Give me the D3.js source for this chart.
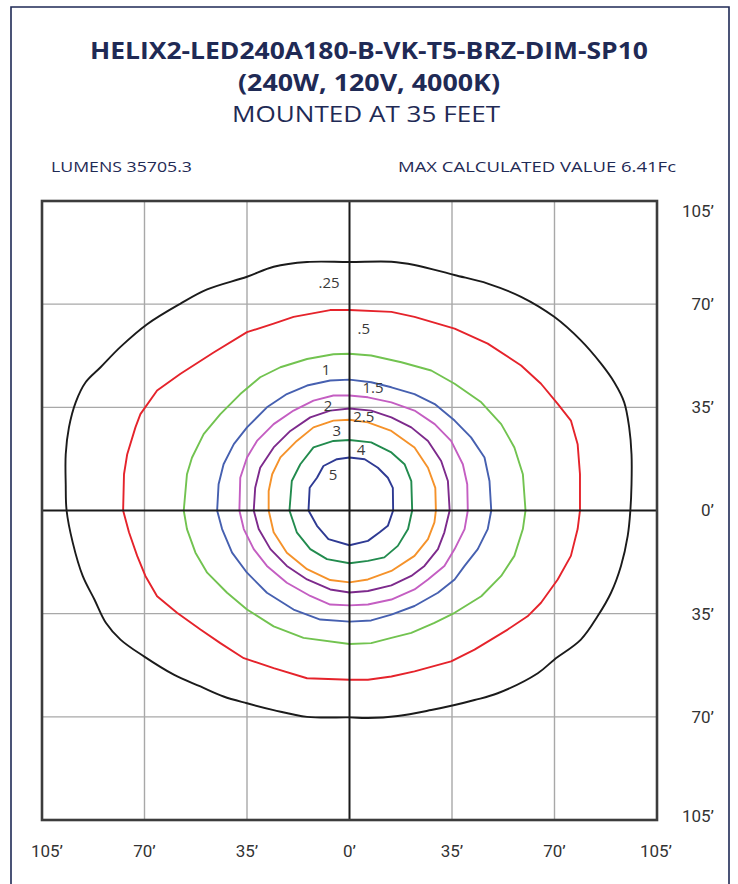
<!DOCTYPE html>
<html>
<head>
<meta charset="utf-8">
<script src="https://cdn.jsdelivr.net/npm/d3@7"></script>
<style>
  html, body { margin: 0; padding: 0; background: #fff; }
  svg { display: block; }
</style>
</head>
<body>
<svg id="chart" width="738" height="884"></svg>
<script>
// ---------- DATA ----------
const titleLines = ["HELIX2-LED240A180-B-VK-T5-BRZ-DIM-SP10", "(240W, 120V, 4000K)", "MOUNTED AT 35 FEET"];
const lumensText = "LUMENS 35705.3";
const maxText = "MAX CALCULATED VALUE 6.41Fc";

const tickValues = [-105, -70, -35, 0, 35, 70, 105];
const tickLabels = ["105’", "70’", "35’", "0’", "35’", "70’", "105’"];
const yTickLabels = ["105’", "70’", "35’", "0’", "35’", "70’", "105’"]; // bottom to top

const levels = [".25", ".5", "1", "1.5", "2", "2.5", "3", "4", "5"];
const levelColors = ["#1b1b1b", "#e5232b", "#72c350", "#4660b0", "#c45ec2", "#7d2a8c", "#f5922a", "#228b4e", "#2e3a93"];

// contour polylines in feet (x, y), clockwise from top centre
const c025 = [[0,84.3],[14.3,84.4],[22.2,83.3],[35.8,79.9],[47.2,77],[58.6,72.5],[69.9,65.7],[79,57.7],[85.9,49.8],[90.4,43.5],[93.8,36.7],[95.5,28.2],[96.3,19.1],[96.3,8.9],
  [95.9,0],[95,-8.6],[92.7,-18.8],[89.3,-27.9],[84.7,-35.9],[79,-43.8],[69.9,-50.6],[64.3,-55.2],[50.6,-62],[42.7,-64.3],[35.9,-66],[27.9,-67.7],[16.5,-69.7],[6.3,-70.4],
  [0,-70.2],[-14.5,-70],[-25.9,-67.7],[-35,-65.4],[-43,-63.1],[-50.9,-59.7],[-60,-55.7],[-70.2,-49.5],[-78.2,-43.8],[-83.2,-38.1],[-87.1,-30.2],[-91.1,-22.2],[-94.5,-10.9],
  [-96.6,0],[-96.9,8.9],[-96.9,19.1],[-95.8,28.2],[-93.5,36.7],[-90.1,43.5],[-85,48.6],[-78.2,55.5],[-69.1,63.2],[-57.7,70.2],[-48.6,75],[-35,79.3],[-25.9,82.7],[-14.5,84.3]];
const c05 = [[0,68],[14.3,67.4],[22.2,65.7],[35.9,61.7],[47.2,56.6],[58.6,49.2],[65.4,43],[71.1,36.2],[75.6,30.5],[77.9,22.5],[78.7,12.3],
  [78.7,0],[77.9,-6.3],[75.6,-15.4],[71.1,-23.4],[65.4,-31.3],[60.8,-35.9],[54,-40.4],[42.7,-47.2],[34.7,-51.2],[22.2,-54.6],[14.3,-56.3],[6.3,-57.4],
  [0,-57.4],[-14.5,-56.9],[-25.9,-53.5],[-36.1,-50.1],[-44.1,-45],[-50.9,-40.4],[-58.9,-34.7],[-65.7,-29.1],[-69.7,-22.2],[-72.5,-15.4],[-75.3,-7.4],
  [-77.3,0],[-77,12.3],[-75.9,19.1],[-73.1,28.2],[-71.4,32.7],[-65.7,40.7],[-57.7,46.4],[-46.4,53.6],[-35,60.5],[-25.9,63.4],[-19.1,65.7],[-6.6,68]];
const c1 = [[0,53.2],[7.4,52.6],[17.7,50.3],[27.9,47.5],[35.9,43],[45,36.7],[51.8,29.3],[56.3,21.4],[59.2,12.3],
  [60.1,0],[59.2,-6.3],[56.3,-15.4],[51.8,-22.2],[45,-29.1],[35.9,-34.7],[29,-38.1],[21.1,-41.5],[14.3,-43.2],[7.4,-45],
  [0,-45.3],[-15.7,-43.2],[-25.9,-39.3],[-35,-33.6],[-41.8,-27.9],[-48.6,-21.1],[-52.6,-14.3],[-55.5,-6.3],
  [-56.6,0],[-55.5,12.3],[-53.8,17.9],[-49.8,25.9],[-44.1,32.7],[-37.3,39.5],[-30.5,45.2],[-23.6,48.6],[-14.5,51.4],[-5.5,53]];
const c15 = [[0,44.4],[7.4,43.5],[14.3,41.8],[22.2,39.5],[29.1,36.1],[35.9,30.5],[41.5,24.8],[46.1,18],[47.8,10],
  [48.4,0],[47.2,-6.3],[43.8,-13.1],[39.3,-18.8],[35.9,-23.4],[30.2,-27.9],[22.2,-32.4],[14.3,-35.3],[7.4,-37.3],
  [0,-37.7],[-10,-37],[-19.1,-33.6],[-28.2,-27.9],[-35,-21.1],[-40.1,-14.3],[-43.5,-6.3],
  [-45.2,0],[-44.7,8.9],[-43,15.7],[-39.5,22.5],[-35,28.2],[-28.2,35],[-21.4,39.5],[-14.5,42.4],[-6.6,44.1]];
const c2 = [[0,39],[6.3,38.4],[14.3,36.7],[22.2,33.9],[29.1,29.3],[34.7,23.6],[38.7,15.7],[40.2,8.9],
  [40.4,0],[39.3,-6.3],[35.9,-13.1],[32.4,-18.8],[26.8,-23.4],[22.2,-26.8],[14.3,-30.2],[6.3,-31.9],
  [0,-32.2],[-6.6,-31.9],[-13.4,-29],[-21.4,-24.5],[-28.2,-18.8],[-32.7,-13.1],[-36.1,-6.3],
  [-37.6,0],[-37.3,11.1],[-35,18],[-31.6,23.6],[-25.9,29.3],[-19.1,33.9],[-12.3,37.3],[-5.5,39]];
const c25 = [[0,34.6],[7.4,33.9],[14.3,31.6],[21.1,28.2],[26.8,23.6],[31.3,16.8],[33.6,10],
  [34.2,0],[32.4,-7.4],[30.2,-13.1],[25.6,-18.8],[21.1,-22.2],[14.3,-25.4],[6.3,-27.3],
  [0,-27.8],[-6.6,-26.8],[-14.5,-23.4],[-21.4,-18.8],[-27,-13.1],[-31,-6.3],
  [-32.7,0],[-32.2,7.7],[-30.5,14.5],[-25.9,21.4],[-20.2,27],[-13.4,31.6],[-6.6,33.9]];
const c3 = [[0,30.8],[6.3,29.9],[14.3,27],[22.2,21.4],[26.8,14.5],[29.3,7.7],
  [29.5,0],[29,-4],[26.8,-9.7],[22.2,-15.4],[14.3,-20.5],[6.3,-23.4],
  [0,-24.4],[-6.6,-23.6],[-14.5,-19.9],[-21.4,-14.3],[-25.9,-7.4],
  [-27.6,0],[-27.6,6.6],[-26.4,12.3],[-23.6,18],[-18,23.6],[-12.3,28.2],[-5.5,30.5]];
const c4 = [[0,23.9],[7.4,23.1],[14.3,19.7],[18.8,15.7],[21.1,10],
  [21.4,0],[20,-6.3],[16.5,-12],[11.9,-15.9],[6.3,-17.1],
  [0,-17.9],[-7.7,-16.5],[-13.4,-13.1],[-18,-7.4],
  [-20.5,0],[-19.7,10],[-16.8,15.7],[-12.3,21.4],[-5.5,23.6]];
const c5 = [[0,18],[5.2,17.4],[9.7,14.5],[13.1,11.1],[14.8,7.7],
  [14.9,0],[13.1,-5.2],[10.3,-7.4],[6.3,-10.3],
  [0,-11.8],[-7.2,-9.7],[-11.1,-5.2],
  [-14,0],[-13.6,7.7],[-11.1,11.1],[-8.9,15.1],[-4.3,17.4]];
const contours = [c025, c05, c1, c15, c2, c25, c3, c4, c5];

// label anchor points in feet
const labelPositions = [[-7,77.1],[4.9,61.5],[-8,47.6],[8,41.5],[-7.3,35.4],[4.9,31.7],[-4.3,27],[3.9,20.5],[-5.6,12]];

// ---------- DRAW ----------
const svg = d3.select("#chart");
const navy = "#1f2a55";

// outer frame (open at bottom)
svg.append("path")
  .attr("d", "M11,884 L11,7 L729,7 L729,884")
  .attr("fill", "none").attr("stroke", navy).attr("stroke-width", 1.6);

function fitText(sel, target) {
  const w = sel.node().getComputedTextLength();
  if (w > 0) sel.attr("textLength", target).attr("lengthAdjust", "spacingAndGlyphs");
}

const tFont = "'Open Sans', 'Noto Sans', sans-serif";
const t1 = svg.append("text").attr("x", 369).attr("y", 59).attr("text-anchor", "middle")
  .attr("font-family", tFont).attr("font-weight", 700).attr("font-size", 23).attr("fill", navy).text(titleLines[0]);
fitText(t1, 558);
const t2 = svg.append("text").attr("x", 369).attr("y", 91).attr("text-anchor", "middle")
  .attr("font-family", tFont).attr("font-weight", 700).attr("font-size", 23).attr("fill", navy).text(titleLines[1]);
fitText(t2, 262);
const t3 = svg.append("text").attr("x", 366).attr("y", 122).attr("text-anchor", "middle")
  .attr("font-family", tFont).attr("font-weight", 400).attr("font-size", 22.5).attr("fill", navy).text(titleLines[2]);
fitText(t3, 268);

const s1 = svg.append("text").attr("x", 51).attr("y", 172).attr("font-family", tFont)
  .attr("font-size", 15).attr("fill", navy).text(lumensText);
fitText(s1, 141);
const s2 = svg.append("text").attr("x", 676).attr("y", 172).attr("text-anchor", "end").attr("font-family", tFont)
  .attr("font-size", 15).attr("fill", navy).text(maxText);
fitText(s2, 278);

// scales
const x = d3.scaleLinear().domain([-105, 105]).range([42, 657]);
const y = d3.scaleLinear().domain([-105, 105]).range([820, 201]);

const g = svg.append("g");

// grid
const inner = tickValues.filter(v => Math.abs(v) !== 105 && v !== 0);
g.selectAll("line.gx").data(inner).join("line")
  .attr("x1", d => x(d)).attr("x2", d => x(d)).attr("y1", y(105)).attr("y2", y(-105))
  .attr("stroke", "#a8a8a8").attr("stroke-width", 1.4);
g.selectAll("line.gy").data(inner).join("line")
  .attr("y1", d => y(d)).attr("y2", d => y(d)).attr("x1", x(-105)).attr("x2", x(105))
  .attr("stroke", "#a8a8a8").attr("stroke-width", 1.4);

// contours: smooth outermost, polygonal inner
const smoothLine = d3.line().x(d => x(d[0])).y(d => y(d[1])).curve(d3.curveCatmullRomClosed.alpha(0.5));
const polyLine = d3.line().x(d => x(d[0])).y(d => y(d[1])).curve(d3.curveLinearClosed);
g.selectAll("path.contour").data(contours).join("path")
  .attr("class", "contour")
  .attr("d", (d, i) => (i === 0 ? smoothLine(d) : polyLine(d)))
  .attr("fill", "none")
  .attr("stroke", (d, i) => levelColors[i])
  .attr("stroke-width", 1.9)
  .attr("stroke-linejoin", "round");

// centre axes
g.append("line").attr("x1", x(0)).attr("x2", x(0)).attr("y1", y(105)).attr("y2", y(-105))
  .attr("stroke", "#1a1a1a").attr("stroke-width", 2);
g.append("line").attr("y1", y(0)).attr("y2", y(0)).attr("x1", x(-105)).attr("x2", x(105))
  .attr("stroke", "#1a1a1a").attr("stroke-width", 2);

// frame
g.append("rect").attr("x", x(-105)).attr("y", y(105))
  .attr("width", x(105) - x(-105)).attr("height", y(-105) - y(105))
  .attr("fill", "none").attr("stroke", "#3c3c3c").attr("stroke-width", 2.6);

// contour labels
g.selectAll("text.lvl").data(levels).join("text")
  .attr("class", "lvl")
  .attr("x", (d, i) => x(labelPositions[i][0]))
  .attr("y", (d, i) => y(labelPositions[i][1]))
  .attr("dy", "0.35em")
  .attr("text-anchor", "middle")
  .attr("font-family", "'Open Sans', sans-serif")
  .attr("font-size", 15)
  .attr("fill", "#3a3a3a")
  .text(d => d);

// axis labels
const aFont = "Roboto, 'Liberation Sans', sans-serif";
svg.selectAll("text.xl").data(tickValues).join("text")
  .attr("class", "xl")
  .attr("x", (d, i) => x(d) + (i === 0 ? 5 : (i === tickValues.length - 1 ? -1 : 0)))
  .attr("y", 857)
  .attr("text-anchor", "middle")
  .attr("font-family", aFont).attr("font-size", 17).attr("fill", "#333")
  .text((d, i) => tickLabels[i]);

svg.selectAll("text.yl").data(tickValues).join("text")
  .attr("class", "yl")
  .attr("x", 714)
  .attr("y", (d, i) => y(d) + (i === 0 ? -4 : (i === tickValues.length - 1 ? 10 : 0)))
  .attr("dy", "0.35em")
  .attr("text-anchor", "end")
  .attr("font-family", aFont).attr("font-size", 17).attr("fill", "#333")
  .text((d, i) => yTickLabels[i]);
</script>
</body>
</html>
